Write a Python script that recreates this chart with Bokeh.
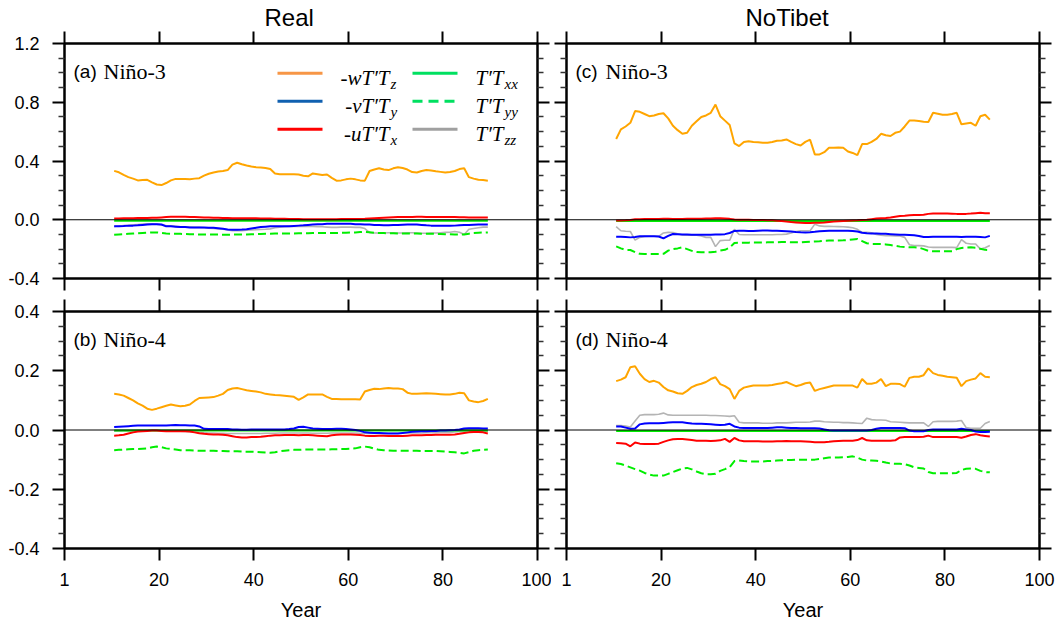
import numpy as np
from bokeh.plotting import figure
from bokeh.models import Range1d, FixedTicker, PrintfTickFormatter, LinearAxis, Span, Label
from bokeh.layouts import column, row
from bokeh.embed import file_html
from bokeh.resources import INLINE

# ---------------- data (running means, x = model year) ----------------
years = list(np.arange(10.5, 90.0, 1.0))
x_ticks = [0, 20, 40, 60, 80, 100]
x_tick_labels = {0: "1"}

# (a) Real, Nino-3
a_wTz = [0.333, 0.323, 0.305, 0.29, 0.28, 0.268, 0.27, 0.272, 0.255, 0.24,
         0.236, 0.25, 0.268, 0.278, 0.278, 0.277, 0.276, 0.28, 0.283, 0.3,
         0.313, 0.322, 0.328, 0.332, 0.338, 0.375, 0.388, 0.378, 0.37, 0.363,
         0.358, 0.355, 0.352, 0.345, 0.315, 0.31, 0.31, 0.31, 0.31, 0.308,
         0.3, 0.296, 0.315, 0.31, 0.304, 0.308, 0.285, 0.266, 0.268, 0.275,
         0.28, 0.275, 0.268, 0.266, 0.332, 0.342, 0.35, 0.342, 0.338, 0.35,
         0.358, 0.352, 0.342, 0.325, 0.322, 0.332, 0.338, 0.335, 0.33, 0.326,
         0.322, 0.325, 0.332, 0.345, 0.35, 0.29, 0.28, 0.272, 0.27, 0.265]
a_vTy = [-0.045, -0.045, -0.043, -0.04, -0.04, -0.038, -0.035, -0.032, -0.03, -0.03,
         -0.032, -0.045, -0.045, -0.047, -0.05, -0.05, -0.052, -0.052, -0.052, -0.053,
         -0.054, -0.055, -0.058, -0.062, -0.066, -0.068, -0.068, -0.067, -0.065, -0.06,
         -0.055, -0.05, -0.047, -0.045, -0.045, -0.045, -0.045, -0.044, -0.042, -0.04,
         -0.038, -0.035, -0.032, -0.03, -0.03, -0.028, -0.028, -0.028, -0.027, -0.027,
         -0.028, -0.03, -0.03, -0.032, -0.033, -0.035, -0.036, -0.037, -0.037, -0.036,
         -0.035, -0.034, -0.033, -0.032, -0.033, -0.035, -0.038, -0.04, -0.04, -0.04,
         -0.04, -0.041, -0.04, -0.038, -0.036, -0.035, -0.034, -0.033, -0.032, -0.032]
a_uTx = [0.008, 0.008, 0.01, 0.01, 0.01, 0.012, 0.012, 0.012, 0.013, 0.014,
         0.016, 0.018, 0.02, 0.02, 0.02, 0.02, 0.019, 0.018, 0.017, 0.016,
         0.015, 0.014, 0.013, 0.012, 0.012, 0.011, 0.01, 0.01, 0.01, 0.01,
         0.01, 0.009, 0.008, 0.008, 0.007, 0.006, 0.006, 0.005, 0.005, 0.005,
         0.004, 0.004, 0.004, 0.004, 0.004, 0.004, 0.004, 0.004, 0.005, 0.005,
         0.005, 0.005, 0.005, 0.006, 0.008, 0.01, 0.012, 0.014, 0.016, 0.017,
         0.018, 0.018, 0.018, 0.019, 0.02, 0.02, 0.019, 0.018, 0.018, 0.018,
         0.018, 0.018, 0.018, 0.017, 0.017, 0.016, 0.016, 0.015, 0.015, 0.015]
a_Txx = [-0.006, -0.006, -0.006, -0.006, -0.006, -0.006, -0.006, -0.006, -0.006, -0.006,
         -0.006, -0.006, -0.006, -0.006, -0.006, -0.006, -0.006, -0.006, -0.006, -0.006,
         -0.006, -0.006, -0.006, -0.006, -0.006, -0.006, -0.006, -0.006, -0.006, -0.006,
         -0.006, -0.006, -0.006, -0.006, -0.006, -0.006, -0.006, -0.006, -0.006, -0.006,
         -0.006, -0.006, -0.006, -0.006, -0.006, -0.006, -0.006, -0.006, -0.006, -0.006,
         -0.006, -0.006, -0.006, -0.006, -0.006, -0.006, -0.006, -0.006, -0.006, -0.006,
         -0.006, -0.006, -0.006, -0.006, -0.006, -0.006, -0.006, -0.006, -0.006, -0.006,
         -0.006, -0.006, -0.006, -0.006, -0.006, -0.006, -0.006, -0.006, -0.006, -0.006]
a_Tyy = [-0.102, -0.1, -0.098, -0.096, -0.094, -0.092, -0.09, -0.088, -0.086, -0.086,
         -0.09, -0.093, -0.095, -0.095, -0.096, -0.097, -0.098, -0.099, -0.1, -0.1,
         -0.1, -0.1, -0.101, -0.102, -0.102, -0.101, -0.1, -0.1, -0.1, -0.099,
         -0.098, -0.097, -0.096, -0.095, -0.094, -0.093, -0.093, -0.093, -0.093, -0.092,
         -0.092, -0.092, -0.091, -0.091, -0.09, -0.09, -0.09, -0.09, -0.089, -0.088,
         -0.087, -0.086, -0.084, -0.082, -0.085, -0.088, -0.09, -0.091, -0.092, -0.092,
         -0.093, -0.093, -0.093, -0.094, -0.094, -0.095, -0.095, -0.095, -0.096, -0.097,
         -0.098, -0.099, -0.1, -0.101, -0.1, -0.095, -0.09, -0.088, -0.087, -0.086]
a_Tzz = [-0.045, -0.043, -0.04, -0.038, -0.035, -0.032, -0.03, -0.028, -0.028, -0.03,
         -0.035, -0.04, -0.042, -0.045, -0.048, -0.05, -0.05, -0.052, -0.052, -0.055,
         -0.058, -0.06, -0.062, -0.065, -0.07, -0.075, -0.075, -0.075, -0.072, -0.07,
         -0.068, -0.066, -0.065, -0.062, -0.055, -0.05, -0.047, -0.045, -0.045, -0.045,
         -0.045, -0.045, -0.046, -0.047, -0.048, -0.05, -0.052, -0.052, -0.05, -0.05,
         -0.05, -0.052, -0.052, -0.06, -0.088, -0.09, -0.09, -0.09, -0.088, -0.088,
         -0.09, -0.09, -0.088, -0.088, -0.09, -0.092, -0.092, -0.09, -0.09, -0.088,
         -0.086, -0.085, -0.08, -0.085, -0.1, -0.065, -0.06, -0.055, -0.05, -0.05]

# (b) Real, Nino-4
b_wTz = [0.122, 0.12, 0.116, 0.108, 0.1, 0.09, 0.082, 0.072, 0.068, 0.072,
         0.077, 0.082, 0.086, 0.083, 0.08, 0.082, 0.086, 0.098, 0.108, 0.109,
         0.11, 0.111, 0.116, 0.122, 0.135, 0.14, 0.142, 0.138, 0.134, 0.132,
         0.13, 0.127, 0.122, 0.12, 0.118, 0.117, 0.116, 0.114, 0.112, 0.102,
         0.11, 0.12, 0.12, 0.12, 0.12, 0.112, 0.105, 0.105, 0.104, 0.104,
         0.104, 0.104, 0.103, 0.13, 0.135, 0.139, 0.138, 0.14, 0.142, 0.14,
         0.14, 0.138, 0.126, 0.122, 0.122, 0.123, 0.124, 0.123, 0.122, 0.121,
         0.12, 0.12, 0.122, 0.126, 0.124, 0.1, 0.096, 0.094, 0.098, 0.105]
b_vTy = [0.01, 0.011, 0.012, 0.013, 0.014, 0.015, 0.015, 0.015, 0.015, 0.015,
         0.015, 0.015, 0.016, 0.017, 0.016, 0.016, 0.015, 0.015, 0.012, 0.004,
         0.003, 0.003, 0.003, 0.003, 0.003, 0.002, 0.002, 0.001, 0.001, 0.002,
         0.002, 0.002, 0.002, 0.002, 0.002, 0.002, 0.002, 0.003, 0.005, 0.01,
         0.011, 0.008, 0.005, 0.004, 0.003, 0.003, 0.003, 0.004, 0.004, 0.003,
         0.002, 0.0, -0.003, -0.008, -0.009, -0.01, -0.01, -0.011, -0.012, -0.012,
         -0.012, -0.01, -0.008, -0.006, -0.005, -0.004, -0.004, -0.003, -0.003, -0.002,
         -0.002, -0.001, 0.0, 0.002, 0.005, 0.006, 0.006, 0.006, 0.005, 0.005]
b_uTx = [-0.019, -0.018, -0.016, -0.012, -0.008, -0.005, -0.004, -0.003, -0.002, -0.002,
         -0.003, -0.004, -0.004, -0.004, -0.004, -0.004, -0.005, -0.008, -0.011, -0.013,
         -0.014, -0.015, -0.015, -0.016, -0.018, -0.021, -0.024, -0.025, -0.025, -0.024,
         -0.024, -0.023, -0.021, -0.019, -0.018, -0.018, -0.017, -0.017, -0.017, -0.018,
         -0.017, -0.017, -0.018, -0.019, -0.02, -0.021, -0.018, -0.016, -0.015, -0.015,
         -0.015, -0.016, -0.017, -0.019, -0.02, -0.02, -0.019, -0.019, -0.02, -0.02,
         -0.02, -0.02, -0.019, -0.018, -0.018, -0.018, -0.017, -0.017, -0.016, -0.016,
         -0.016, -0.016, -0.015, -0.013, -0.01, -0.008, -0.007, -0.007, -0.008, -0.012]
b_Txx = [-0.002, -0.002, -0.002, -0.002, -0.002, -0.002, -0.002, -0.002, -0.002, -0.002,
         -0.002, -0.002, -0.002, -0.002, -0.002, -0.002, -0.002, -0.002, -0.002, -0.002,
         -0.002, -0.002, -0.002, -0.002, -0.002, -0.002, -0.002, -0.002, -0.002, -0.002,
         -0.002, -0.002, -0.002, -0.002, -0.002, -0.002, -0.002, -0.002, -0.002, -0.002,
         -0.002, -0.002, -0.002, -0.002, -0.002, -0.002, -0.002, -0.002, -0.002, -0.002,
         -0.002, -0.002, -0.002, -0.002, -0.002, -0.002, -0.002, -0.002, -0.002, -0.002,
         -0.002, -0.002, -0.002, -0.002, -0.002, -0.002, -0.002, -0.002, -0.002, -0.002,
         -0.002, -0.002, -0.002, -0.002, -0.002, -0.002, -0.002, -0.002, -0.002, -0.002]
b_Tyy = [-0.068, -0.067, -0.066, -0.065, -0.064, -0.064, -0.063, -0.062, -0.058, -0.056,
         -0.058, -0.062, -0.064, -0.066, -0.068, -0.068, -0.068, -0.069, -0.07, -0.07,
         -0.07, -0.07, -0.071, -0.071, -0.072, -0.072, -0.072, -0.073, -0.073, -0.073,
         -0.074, -0.075, -0.076, -0.077, -0.075, -0.072, -0.07, -0.068, -0.067, -0.067,
         -0.066, -0.066, -0.066, -0.066, -0.066, -0.066, -0.065, -0.065, -0.064, -0.064,
         -0.063, -0.062, -0.058, -0.056, -0.058, -0.063, -0.067, -0.068, -0.069, -0.07,
         -0.07, -0.07, -0.07, -0.07, -0.07, -0.071, -0.071, -0.071, -0.071, -0.072,
         -0.073, -0.074, -0.075, -0.077, -0.079, -0.075, -0.07, -0.068, -0.067, -0.066]
b_Tzz = [-0.004, -0.004, -0.003, -0.003, -0.003, -0.002, -0.002, -0.002, -0.002, -0.003,
         -0.003, -0.003, -0.003, -0.004, -0.004, -0.005, -0.006, -0.007, -0.008, -0.009,
         -0.01, -0.01, -0.011, -0.011, -0.012, -0.012, -0.012, -0.012, -0.012, -0.012,
         -0.012, -0.012, -0.011, -0.011, -0.011, -0.01, -0.01, -0.01, -0.01, -0.01,
         -0.01, -0.01, -0.011, -0.011, -0.011, -0.011, -0.01, -0.01, -0.01, -0.01,
         -0.01, -0.01, -0.011, -0.012, -0.012, -0.012, -0.012, -0.012, -0.011, -0.011,
         -0.011, -0.011, -0.011, -0.01, -0.01, -0.01, -0.009, -0.009, -0.009, -0.008,
         -0.008, -0.008, -0.007, -0.006, -0.005, -0.004, -0.004, -0.004, -0.004, -0.004]

# (c) NoTibet, Nino-3
c_wTz = [0.55, 0.615, 0.635, 0.66, 0.74, 0.735, 0.72, 0.705, 0.71, 0.72,
         0.725, 0.69, 0.64, 0.61, 0.585, 0.592, 0.64, 0.67, 0.70, 0.71,
         0.728, 0.784, 0.705, 0.675, 0.645, 0.52, 0.502, 0.53, 0.535, 0.53,
         0.528, 0.525, 0.525, 0.53, 0.538, 0.54, 0.547, 0.53, 0.515, 0.505,
         0.53, 0.545, 0.445, 0.445, 0.46, 0.49, 0.49, 0.492, 0.49, 0.465,
         0.455, 0.44, 0.515, 0.515, 0.53, 0.55, 0.585, 0.575, 0.57, 0.592,
         0.6, 0.635, 0.675, 0.675, 0.672, 0.668, 0.665, 0.728, 0.722, 0.715,
         0.715, 0.72, 0.728, 0.65, 0.655, 0.66, 0.64, 0.705, 0.715, 0.682]
c_vTy = [-0.115, -0.116, -0.118, -0.12, -0.118, -0.113, -0.112, -0.112, -0.113, -0.114,
         -0.127, -0.11, -0.097, -0.098, -0.1, -0.101, -0.102, -0.102, -0.102, -0.102,
         -0.102, -0.101, -0.1, -0.098, -0.09, -0.076, -0.075, -0.075, -0.076, -0.076,
         -0.075, -0.074, -0.074, -0.075, -0.075, -0.076, -0.078, -0.08, -0.083, -0.085,
         -0.086, -0.085, -0.082, -0.078, -0.076, -0.075, -0.075, -0.075, -0.075, -0.075,
         -0.076, -0.08, -0.088, -0.092, -0.093, -0.094, -0.095, -0.096, -0.098, -0.1,
         -0.102, -0.102, -0.103, -0.105, -0.11, -0.118, -0.118, -0.116, -0.115, -0.115,
         -0.115, -0.115, -0.116, -0.117, -0.116, -0.115, -0.115, -0.117, -0.12, -0.11]
c_uTx = [-0.005, -0.005, -0.004, -0.002, 0.003, 0.004, 0.005, 0.005, 0.005, 0.005,
         0.006, 0.006, 0.005, 0.005, 0.005, 0.006, 0.007, 0.007, 0.007, 0.008,
         0.009, 0.01, 0.01, 0.008, 0.006, 0.002, 0.0, 0.0, 0.0, -0.001,
         -0.002, -0.002, -0.003, -0.004, -0.006, -0.008, -0.012, -0.016, -0.018, -0.02,
         -0.022, -0.022, -0.021, -0.02, -0.018, -0.015, -0.012, -0.01, -0.008, -0.006,
         -0.005, -0.004, -0.002, 0.0, 0.004, 0.008, 0.01, 0.012, 0.015, 0.02,
         0.025, 0.027, 0.03, 0.032, 0.033, 0.034, 0.04, 0.043, 0.043, 0.042,
         0.042, 0.041, 0.04, 0.04, 0.04, 0.042, 0.045, 0.047, 0.045, 0.045]
c_Txx = [-0.008, -0.008, -0.008, -0.008, -0.008, -0.008, -0.008, -0.008, -0.008, -0.008,
         -0.008, -0.008, -0.008, -0.008, -0.008, -0.008, -0.008, -0.008, -0.008, -0.008,
         -0.008, -0.008, -0.008, -0.008, -0.008, -0.008, -0.008, -0.008, -0.008, -0.008,
         -0.008, -0.008, -0.008, -0.008, -0.008, -0.008, -0.008, -0.008, -0.008, -0.008,
         -0.008, -0.008, -0.008, -0.008, -0.008, -0.008, -0.008, -0.008, -0.008, -0.008,
         -0.008, -0.008, -0.008, -0.008, -0.008, -0.008, -0.008, -0.008, -0.008, -0.008,
         -0.008, -0.008, -0.008, -0.008, -0.008, -0.008, -0.008, -0.008, -0.008, -0.008,
         -0.008, -0.008, -0.008, -0.008, -0.008, -0.008, -0.008, -0.008, -0.008, -0.008]
c_Tyy = [-0.181, -0.195, -0.206, -0.206, -0.22, -0.232, -0.233, -0.233, -0.233, -0.233,
         -0.232, -0.21, -0.2, -0.195, -0.188, -0.2, -0.212, -0.22, -0.221, -0.221,
         -0.221, -0.218, -0.21, -0.205, -0.19, -0.158, -0.157, -0.156, -0.156, -0.155,
         -0.155, -0.155, -0.154, -0.154, -0.153, -0.152, -0.152, -0.153, -0.154, -0.154,
         -0.152, -0.15, -0.148, -0.146, -0.143, -0.142, -0.142, -0.141, -0.14, -0.138,
         -0.134, -0.131, -0.145, -0.16, -0.165, -0.165, -0.166, -0.168, -0.172, -0.178,
         -0.183, -0.186, -0.188, -0.188, -0.19, -0.2, -0.212, -0.215, -0.215, -0.215,
         -0.215, -0.214, -0.2, -0.192, -0.19, -0.188, -0.19, -0.198, -0.205, -0.206]
c_Tzz = [-0.047, -0.075, -0.078, -0.08, -0.138, -0.12, -0.113, -0.112, -0.112, -0.113,
         -0.09, -0.086, -0.087, -0.095, -0.104, -0.105, -0.104, -0.105, -0.11, -0.12,
         -0.12, -0.183, -0.142, -0.14, -0.14, -0.065, -0.1, -0.102, -0.102, -0.102,
         -0.102, -0.102, -0.102, -0.102, -0.1, -0.1, -0.098, -0.09, -0.08, -0.075,
         -0.075, -0.075, -0.03, -0.042, -0.045, -0.045, -0.046, -0.047, -0.048, -0.05,
         -0.055, -0.065, -0.086, -0.086, -0.088, -0.1, -0.106, -0.108, -0.108, -0.11,
         -0.11, -0.12, -0.17, -0.176, -0.176, -0.178, -0.185, -0.188, -0.188, -0.188,
         -0.188, -0.188, -0.19, -0.135, -0.16, -0.165, -0.165, -0.2, -0.19, -0.176]

# (d) NoTibet, Nino-4
d_wTz = [0.165, 0.17, 0.178, 0.212, 0.215, 0.19, 0.172, 0.162, 0.166, 0.16,
         0.145, 0.134, 0.13, 0.124, 0.122, 0.132, 0.145, 0.152, 0.156, 0.162,
         0.172, 0.178, 0.155, 0.148, 0.138, 0.105, 0.132, 0.143, 0.147, 0.15,
         0.15, 0.15, 0.15, 0.152, 0.155, 0.158, 0.162, 0.155, 0.148, 0.152,
         0.158, 0.16, 0.132, 0.138, 0.142, 0.146, 0.15, 0.15, 0.15, 0.15,
         0.15, 0.143, 0.172, 0.156, 0.156, 0.16, 0.172, 0.148, 0.156, 0.156,
         0.155, 0.146, 0.176, 0.18, 0.18, 0.185, 0.208, 0.192, 0.186, 0.183,
         0.18, 0.178, 0.176, 0.148, 0.165, 0.17, 0.174, 0.192, 0.18, 0.178]
d_vTy = [0.012, 0.012, 0.008, 0.004, 0.005, 0.019, 0.022, 0.023, 0.023, 0.023,
         0.024, 0.025, 0.026, 0.026, 0.026, 0.024, 0.022, 0.021, 0.021, 0.02,
         0.019, 0.018, 0.017, 0.018, 0.021, 0.012, 0.008, 0.007, 0.007, 0.007,
         0.007, 0.007, 0.007, 0.008, 0.009, 0.009, 0.008, 0.007, 0.007, 0.006,
         0.006, 0.006, 0.006, 0.005, 0.002, -0.001, -0.002, -0.002, -0.002, -0.002,
         -0.002, -0.002, -0.002, -0.002, 0.0, 0.004, 0.007, 0.007, 0.007, 0.007,
         0.007, 0.006, -0.002, -0.004, -0.004, -0.004, 0.0, 0.002, 0.002, 0.002,
         0.002, 0.002, 0.002, 0.004, 0.002, 0.0, -0.005, -0.007, -0.007, -0.006]
d_uTx = [-0.044, -0.045, -0.046, -0.055, -0.042, -0.046, -0.047, -0.047, -0.047, -0.046,
         -0.04, -0.035, -0.031, -0.03, -0.03, -0.032, -0.034, -0.036, -0.036, -0.036,
         -0.037, -0.036, -0.035, -0.03, -0.04, -0.027, -0.035, -0.038, -0.038, -0.038,
         -0.038, -0.039, -0.039, -0.039, -0.038, -0.038, -0.037, -0.038, -0.038, -0.038,
         -0.039, -0.04, -0.041, -0.041, -0.041, -0.04, -0.038, -0.037, -0.036, -0.036,
         -0.036, -0.034, -0.027, -0.035, -0.036, -0.036, -0.036, -0.036, -0.036, -0.035,
         -0.025, -0.024, -0.024, -0.024, -0.024, -0.023, -0.019, -0.024, -0.024, -0.024,
         -0.024, -0.024, -0.024, -0.026, -0.022, -0.017, -0.014, -0.018, -0.02, -0.022]
d_Txx = [-0.003, -0.003, -0.003, -0.003, -0.003, -0.003, -0.003, -0.003, -0.003, -0.003,
         -0.003, -0.003, -0.003, -0.003, -0.003, -0.003, -0.003, -0.003, -0.003, -0.003,
         -0.003, -0.003, -0.003, -0.003, -0.003, -0.003, -0.003, -0.003, -0.003, -0.003,
         -0.003, -0.003, -0.003, -0.003, -0.003, -0.003, -0.003, -0.003, -0.003, -0.003,
         -0.003, -0.003, -0.003, -0.003, -0.003, -0.003, -0.003, -0.003, -0.003, -0.003,
         -0.003, -0.003, -0.003, -0.003, -0.003, -0.003, -0.003, -0.003, -0.003, -0.003,
         -0.003, -0.003, -0.003, -0.003, -0.003, -0.003, -0.003, -0.003, -0.003, -0.003,
         -0.003, -0.003, -0.003, -0.003, -0.003, -0.003, -0.003, -0.003, -0.003, -0.003]
d_Tyy = [-0.112, -0.115, -0.12, -0.126, -0.132, -0.137, -0.145, -0.15, -0.154, -0.154,
         -0.154, -0.148, -0.142, -0.136, -0.13, -0.128, -0.133, -0.14, -0.146, -0.149,
         -0.149, -0.148, -0.138, -0.132, -0.125, -0.105, -0.103, -0.105, -0.106, -0.106,
         -0.106, -0.106, -0.105, -0.104, -0.103, -0.102, -0.101, -0.101, -0.1, -0.1,
         -0.1, -0.1, -0.1, -0.098, -0.095, -0.093, -0.093, -0.093, -0.092, -0.091,
         -0.089, -0.093, -0.1, -0.103, -0.103, -0.104, -0.106, -0.11, -0.113, -0.114,
         -0.114, -0.115, -0.12, -0.126, -0.128, -0.13, -0.142, -0.146, -0.146, -0.146,
         -0.146, -0.146, -0.145, -0.135, -0.131, -0.13, -0.131, -0.138, -0.142, -0.143]
d_Tzz = [0.015, 0.015, 0.013, 0.01, 0.03, 0.05, 0.052, 0.052, 0.052, 0.053,
         0.057, 0.051, 0.05, 0.05, 0.05, 0.05, 0.05, 0.05, 0.05, 0.05,
         0.049, 0.049, 0.048, 0.047, 0.046, 0.048, 0.026, 0.024, 0.024, 0.024,
         0.024, 0.023, 0.023, 0.023, 0.024, 0.024, 0.024, 0.025, 0.026, 0.026,
         0.026, 0.027, 0.03, 0.03, 0.028, 0.027, 0.026, 0.026, 0.025, 0.025,
         0.024, 0.023, 0.022, 0.04, 0.035, 0.034, 0.034, 0.033, 0.028, 0.027,
         0.026, 0.025, 0.024, 0.024, 0.024, 0.024, 0.012, 0.028, 0.029, 0.029,
         0.029, 0.029, 0.03, 0.032, 0.008, 0.006, 0.006, 0.006, 0.022, 0.029]

# ---------------- layout constants (pixels) ----------------
FW = 473                      # frame width
LEFT_W, RIGHT_W = 551, 508
TOP_H, BOT_H = 294, 333
SANS = "Liberation Sans"
SERIF = "Liberation Serif"

COL = {"w": "#FFA500", "v": "#0000FF", "u": "#FF0000", "xx": "#00EE00", "yy": "#00EE00", "zz": "#B4B4B4"}


def styled_axis(ticker, show_labels, standoff, formatter=None, overrides=None, label=None):
    ax = LinearAxis(ticker=ticker)
    if formatter is not None:
        ax.formatter = formatter
    if overrides:
        ax.major_label_overrides = overrides
    ax.axis_line_color = "black"
    ax.axis_line_width = 2
    ax.major_tick_line_color = "black"
    ax.major_tick_line_width = 2
    ax.minor_tick_line_color = "#333333"
    ax.minor_tick_line_width = 1.5
    ax.major_tick_in = 0
    ax.major_tick_out = 12
    ax.minor_tick_in = 0
    ax.minor_tick_out = 6
    ax.major_label_text_font = SANS
    if show_labels:
        ax.major_label_text_color = "black"
        ax.major_label_text_font_size = "18px"
        ax.major_label_standoff = standoff
    else:
        ax.major_label_text_color = None
        ax.major_label_text_font_size = "0px"
        ax.major_label_standoff = 0
    if label:
        ax.axis_label = label
        ax.axis_label_text_font = SANS
        ax.axis_label_text_font_size = "20px"
        ax.axis_label_text_font_style = "normal"
        ax.axis_label_text_color = "black"
        ax.axis_label_standoff = 10
    return ax


def make_panel(width, height, borders, yr, ymajor, yminor, ylabels, xlabels, series,
               title=None, title_offset=0):
    bl, br, bt, bb = borders
    p = figure(width=width, height=height, x_range=Range1d(0, 100), y_range=Range1d(*yr),
               output_backend="svg", toolbar_location=None,
               x_axis_location=None, y_axis_location=None,
               min_border_left=bl, min_border_right=br, min_border_top=bt, min_border_bottom=bb,
               background_fill_color="white", border_fill_color="white")
    if title:
        p.title.text = title
        p.title.align = "left"
        p.title.offset = title_offset
        p.title.text_font = SANS
        p.title.text_font_size = "24px"
        p.title.text_font_style = "normal"
        p.title.text_color = "black"
        p.title.standoff = 2
    p.grid.visible = False
    p.outline_line_color = "black"
    p.outline_line_width = 2
    fmt = PrintfTickFormatter(format="%.1f")
    p.add_layout(styled_axis(FixedTicker(ticks=ymajor, minor_ticks=yminor), ylabels, 13, fmt), "left")
    p.add_layout(styled_axis(FixedTicker(ticks=ymajor, minor_ticks=yminor), False, 0, fmt), "right")
    p.add_layout(styled_axis(FixedTicker(ticks=x_ticks), xlabels, 12, overrides=x_tick_labels,
                             label="Year" if xlabels else None), "below")
    p.add_layout(styled_axis(FixedTicker(ticks=x_ticks), False, 0), "above")
    p.add_layout(Span(location=0, dimension="width", line_color="black", line_width=1))
    wT, vT, uT, Txx, Tyy, Tzz = series
    p.line(years, Tzz, line_color=COL["zz"], line_width=1.6)
    p.line(years, Tyy, line_color=COL["yy"], line_width=2, line_dash="8 4")
    p.line(years, Txx, line_color=COL["xx"], line_width=2)
    p.line(years, uT, line_color=COL["u"], line_width=2)
    p.line(years, vT, line_color=COL["v"], line_width=2)
    p.line(years, wT, line_color=COL["w"], line_width=2)
    return p


class Frame:
    def __init__(self, left, top, h, ylo, yhi):
        self.left, self.top, self.h, self.ylo, self.yhi = left, top, h, ylo, yhi

    def x(self, px):
        return (px - self.left) / FW * 100.0

    def y(self, py):
        return self.yhi - (py - self.top) / self.h * (self.yhi - self.ylo)


def txt(p, fr, px, py, text, font, size, style="normal", align="left", color="black"):
    p.add_layout(Label(x=fr.x(px), y=fr.y(py), text=text, text_font=font, text_font_size=size,
                       text_font_style=style, text_align=align, text_baseline="alphabetic",
                       text_color=color))


top_major = [-0.4, 0.0, 0.4, 0.8, 1.2]
top_minor = [-0.3, -0.2, -0.1, 0.1, 0.2, 0.3, 0.5, 0.6, 0.7, 0.9, 1.0, 1.1]
bot_major = [-0.4, -0.2, 0.0, 0.2, 0.4]
bot_minor = [-0.35, -0.3, -0.25, -0.15, -0.1, -0.05, 0.05, 0.1, 0.15, 0.25, 0.3, 0.35]

pa = make_panel(LEFT_W, TOP_H, (64, 14, 42, 16), (-0.4, 1.2), top_major, top_minor, True, False,
                (a_wTz, a_vTy, a_uTx, a_Txx, a_Tyy, a_Tzz), title="Real", title_offset=200)
pc = make_panel(RIGHT_W, TOP_H, (15, 20, 42, 16), (-0.4, 1.2), top_major, top_minor, False, False,
                (c_wTz, c_vTy, c_uTx, c_Txx, c_Tyy, c_Tzz), title="NoTibet", title_offset=179)
pb = make_panel(LEFT_W, BOT_H, (64, 14, 17, 79), (-0.4, 0.4), bot_major, bot_minor, True, True,
                (b_wTz, b_vTy, b_uTx, b_Txx, b_Tyy, b_Tzz))
pd = make_panel(RIGHT_W, BOT_H, (15, 20, 17, 79), (-0.4, 0.4), bot_major, bot_minor, False, True,
                (d_wTz, d_vTy, d_uTx, d_Txx, d_Tyy, d_Tzz))

fa = Frame(64, 42, 236, -0.4, 1.2)
fc = Frame(566, 42, 236, -0.4, 1.2)
fb = Frame(64, 311, 237, -0.4, 0.4)
fd = Frame(566, 311, 237, -0.4, 0.4)

# panel tags
for p, fr, tag, name in [(pa, fa, "(a)", "Niño-3"), (pc, fc, "(c)", "Niño-3"),
                         (pb, fb, "(b)", "Niño-4"), (pd, fd, "(d)", "Niño-4")]:
    txt(p, fr, fr.left + 9, fr.top + 28, tag, SANS, "19px")
    txt(p, fr, fr.left + 39, fr.top + 28, name, SERIF, "22px")

# legend (in panel a)
legend_rows = [72, 100, 128]
legend_entries = [
    (277, 322, 389, "#F79646", None, "-wT′T", "z"),
    (277, 322, 389, "#1060B0", None, "-vT′T", "y"),
    (277, 322, 389, "#FF0000", None, "-uT′T", "x"),
    (412, 457, 503, "#00E060", None, "T′T", "xx"),
    (412, 457, 503, "#00E060", "10 6", "T′T", "yy"),
    (412, 457, 503, "#A0A0A0", None, "T′T", "zz"),
]
for i, (x0, x1, xs, colr, dash, main, sub) in enumerate(legend_entries):
    ry = legend_rows[i % 3]
    kw = dict(line_color=colr, line_width=3)
    if dash:
        kw["line_dash"] = dash
    pa.segment(x0=[fa.x(x0)], y0=[fa.y(ry)], x1=[fa.x(x1)], y1=[fa.y(ry)], **kw)
    txt(pa, fa, xs, ry + 5, main, SERIF, "21px", style="italic", align="right")
    txt(pa, fa, xs + 1, ry + 11, sub, SERIF, "15px", style="italic", align="left")

layout = column(row(pa, pc), row(pb, pd))
open("out.html", "w").write(file_html(layout, INLINE))
